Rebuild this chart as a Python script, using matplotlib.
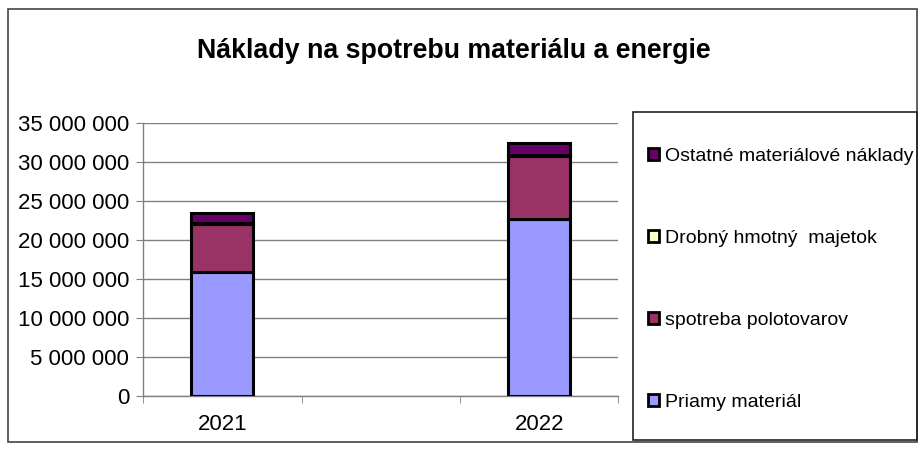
import matplotlib.pyplot as plt
from matplotlib.patches import Rectangle, Patch
from matplotlib.ticker import FuncFormatter

plt.rcParams['font.family'] = ['Liberation Sans', 'DejaVu Sans']

years = ['2021', '2022']
priamy = [15900000, 22700000]
spotreba = [6150000, 8100000]
drobny = [150000, 150000]
ostatne = [1300000, 1500000]

names = ['Priamy materiál', 'spotreba polotovarov', 'Drobný hmotný  majetok', 'Ostatné materiálové náklady']
colors = ['#9999FF', '#993366', '#FFFFCC', '#660066']

fig = plt.figure(figsize=(9.23, 4.72), dpi=100)
ax = fig.add_axes([0.155, 0.161, 0.515, 0.578])

# three category slots, the middle one is empty
xpos = [0, 2]
bottom = [0, 0]
for vals, c in zip([priamy, spotreba, drobny, ostatne], colors):
    ax.bar(xpos, vals, width=0.39, bottom=bottom, color=c, edgecolor='black', linewidth=2.2, zorder=3)
    bottom = [b + v for b, v in zip(bottom, vals)]

ax.set_xlim(-0.5, 2.5)
ax.set_ylim(0, 35000000)
ax.set_yticks(range(0, 35000001, 5000000))
ax.yaxis.set_major_formatter(FuncFormatter(lambda v, p: f'{int(v):,}'.replace(',', ' ')))
ax.set_xticks(xpos)
ax.set_xticklabels(years)
ax.set_xticks([-0.5, 0.5, 1.5, 2.5], minor=True)
ax.tick_params(axis='x', which='major', length=0, labelsize=16, pad=13)
ax.tick_params(axis='x', which='minor', length=5, color='#808080')
ax.tick_params(axis='y', length=5, color='#808080', labelsize=16, pad=5)
ax.grid(True, axis='y', color='#808080', linewidth=1, zorder=0)
for s in ['top', 'right']:
    ax.spines[s].set_visible(False)
for s in ['left', 'bottom']:
    ax.spines[s].set_color('#808080')
    ax.spines[s].set_linewidth(1)

fig.text(0.492, 0.893, 'Náklady na spotrebu materiálu a energie', ha='center', va='center',
         fontsize=19.3, fontweight='bold')

# outer frame and legend box
fig.patches.append(Rectangle((0.009, 0.064), 0.984, 0.917, transform=fig.transFigure,
                             fill=False, edgecolor='#444444', linewidth=1.2))
fig.patches.append(Rectangle((0.686, 0.068), 0.307, 0.695, transform=fig.transFigure,
                             fill=False, edgecolor='#222222', linewidth=1.2))

handles = [Patch(facecolor=c, edgecolor='black', linewidth=2) for c in colors]
fig.legend(handles[::-1], names[::-1], loc='center left', bbox_to_anchor=(0.694, 0.408),
           frameon=False, fontsize=14, labelspacing=3.35, handlelength=0.55, handleheight=0.55,
           handletextpad=0.3, borderaxespad=0)

fig.savefig('out.png', dpi=100)
